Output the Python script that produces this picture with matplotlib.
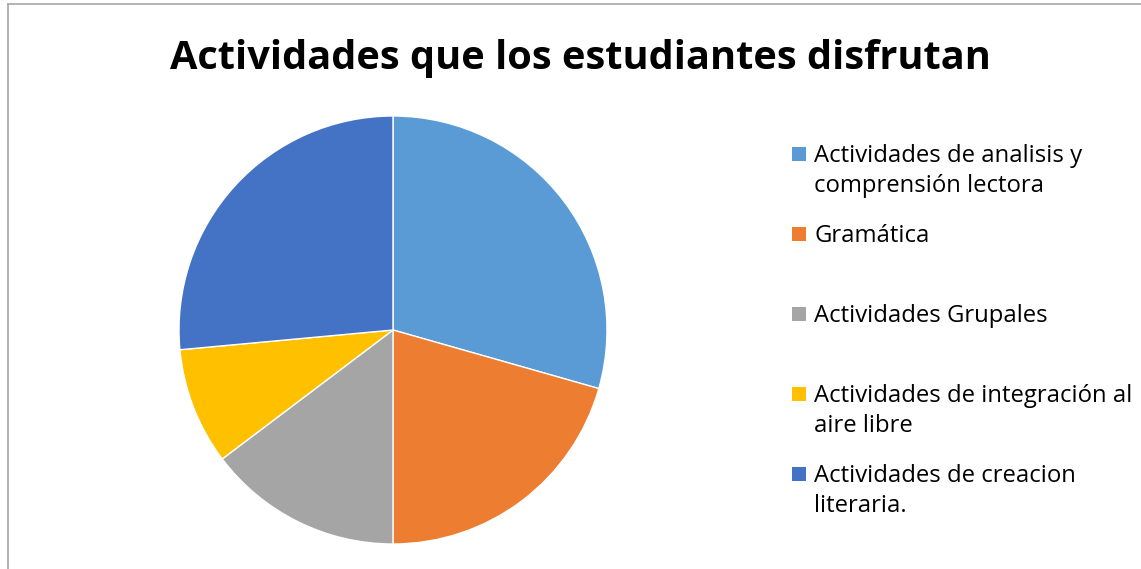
import matplotlib.pyplot as plt
from matplotlib.patches import Rectangle
from matplotlib.lines import Line2D

labels = ['Actividades de analisis y\ncomprensión lectora', 'Gramática',
          'Actividades Grupales', 'Actividades de integración al\naire libre',
          'Actividades de creacion\nliteraria.']
values = [10, 7, 5, 3, 9]
colors = ['#5B9BD5', '#ED7D31', '#A5A5A5', '#FFC000', '#4472C4']

W, H = 1141, 569
fig = plt.figure(figsize=(W / 100, H / 100), dpi=100)

# chart frame (only left and top edges visible)
fig.add_artist(Line2D([7.5 / W, 7.5 / W], [0, 1 - 4 / H], color='#A6A6A6', lw=1.2))
fig.add_artist(Line2D([7.5 / W, 1], [1 - 4 / H, 1 - 4 / H], color='#A6A6A6', lw=1.2))

fig.text(580 / W, 1 - 58 / H, 'Actividades que los estudiantes disfrutan',
         ha='center', va='center', fontsize=28.6, fontweight='bold',
         family='Open Sans', color='black')

r = 214
cx, cy = 393, 330
ax = fig.add_axes([(cx - r) / W, 1 - (cy + r) / H, 2 * r / W, 2 * r / H])
ax.pie(values, colors=colors, startangle=90, counterclock=False, radius=1,
       wedgeprops=dict(edgecolor='white', linewidth=1))
ax.set_xlim(-1, 1)
ax.set_ylim(-1, 1)
ax.set_aspect('equal')
ax.axis('off')

# legend, entries spaced evenly like Excel
for i, (lab, col) in enumerate(zip(labels, colors)):
    y = 154 + 80 * i
    fig.add_artist(Rectangle((792 / W, 1 - (y + 7) / H), 14 / W, 14 / H,
                             facecolor=col, edgecolor='none',
                             transform=fig.transFigure))
    fig.text(814 / W, 1 - (y + 8) / H, lab.split('\n')[0], ha='left', va='baseline',
             fontsize=17.2, family='Open Sans', color='black')
    if '\n' in lab:
        fig.text(814 / W, 1 - (y + 38) / H, lab.split('\n')[1], ha='left',
                 va='baseline', fontsize=17.2, family='Open Sans', color='black')

fig.savefig('out.png', dpi=100)
